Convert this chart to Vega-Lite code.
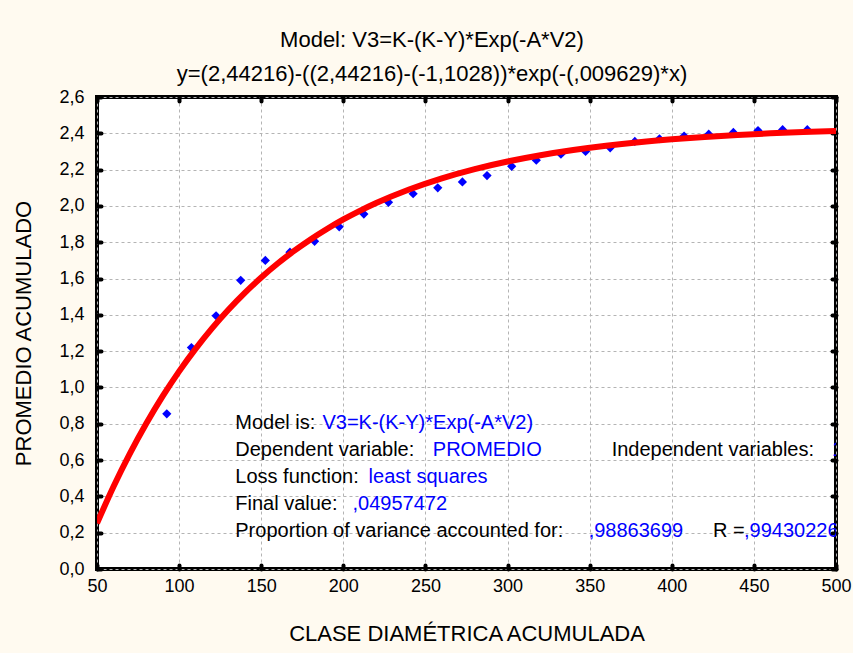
{
  "$schema": "https://vega.github.io/schema/vega-lite/v6.json",
  "width": 739,
  "height": 472,
  "autosize": {"type": "none"},
  "padding": {"left": 97, "top": 97, "right": 17, "bottom": 84},
  "background": "#FFFAF0",
  "config": {
    "font": "Liberation Sans",
    "view": {"fill": "white", "stroke": "black", "strokeWidth": 4}
  },
  "title": {
    "text": "Model: V3=K-(K-Y)*Exp(-A*V2)",
    "subtitle": "y=(2,44216)-((2,44216)-(-1,1028))*exp(-(,009629)*x)",
    "anchor": "middle",
    "frame": "bounds",
    "font": "Liberation Sans",
    "fontSize": 22,
    "fontWeight": "normal",
    "color": "black",
    "subtitleFont": "Liberation Sans",
    "subtitleFontSize": 22,
    "subtitleColor": "black",
    "subtitlePadding": 12,
    "offset": 2
  },
  "datasets": {
    "puntos": [
      {"clase": 92.5, "promedio": 0.855},
      {"clase": 107.5, "promedio": 1.22},
      {"clase": 122.5, "promedio": 1.395},
      {"clase": 137.5, "promedio": 1.59},
      {"clase": 152.5, "promedio": 1.70},
      {"clase": 167.5, "promedio": 1.745},
      {"clase": 182.5, "promedio": 1.805},
      {"clase": 197.5, "promedio": 1.885},
      {"clase": 212.5, "promedio": 1.955},
      {"clase": 227.5, "promedio": 2.02},
      {"clase": 242.5, "promedio": 2.067},
      {"clase": 257.5, "promedio": 2.10},
      {"clase": 272.5, "promedio": 2.132},
      {"clase": 287.5, "promedio": 2.167},
      {"clase": 302.5, "promedio": 2.218},
      {"clase": 317.5, "promedio": 2.252},
      {"clase": 332.5, "promedio": 2.285},
      {"clase": 347.5, "promedio": 2.30},
      {"clase": 362.5, "promedio": 2.32},
      {"clase": 377.5, "promedio": 2.355},
      {"clase": 392.5, "promedio": 2.37},
      {"clase": 407.5, "promedio": 2.385},
      {"clase": 422.5, "promedio": 2.395},
      {"clase": 437.5, "promedio": 2.405},
      {"clase": 452.5, "promedio": 2.415},
      {"clase": 467.5, "promedio": 2.42},
      {"clase": 482.5, "promedio": 2.42}
    ],
    "ajuste": [
      {"clase": 50, "promedio": 0.2518},
      {"clase": 60, "promedio": 0.4529},
      {"clase": 70, "promedio": 0.6355},
      {"clase": 80, "promedio": 0.8014},
      {"clase": 90, "promedio": 0.9520},
      {"clase": 100, "promedio": 1.0888},
      {"clase": 110, "promedio": 1.2129},
      {"clase": 120, "promedio": 1.3258},
      {"clase": 130, "promedio": 1.4283},
      {"clase": 140, "promedio": 1.5213},
      {"clase": 150, "promedio": 1.6058},
      {"clase": 160, "promedio": 1.6826},
      {"clase": 170, "promedio": 1.7523},
      {"clase": 180, "promedio": 1.8156},
      {"clase": 190, "promedio": 1.8731},
      {"clase": 200, "promedio": 1.9255},
      {"clase": 210, "promedio": 1.9729},
      {"clase": 220, "promedio": 2.0160},
      {"clase": 240, "promedio": 2.0906},
      {"clase": 260, "promedio": 2.1522},
      {"clase": 280, "promedio": 2.2030},
      {"clase": 300, "promedio": 2.2449},
      {"clase": 320, "promedio": 2.2794},
      {"clase": 340, "promedio": 2.3080},
      {"clase": 360, "promedio": 2.3315},
      {"clase": 380, "promedio": 2.3509},
      {"clase": 400, "promedio": 2.3668},
      {"clase": 420, "promedio": 2.3800},
      {"clase": 440, "promedio": 2.3909},
      {"clase": 460, "promedio": 2.3999},
      {"clase": 480, "promedio": 2.4073},
      {"clase": 500, "promedio": 2.4134}
    ],
    "notas": [
      {"tx": 134.2, "ty": 0.8026, "txt": "Model is:", "kind": "label"},
      {"tx": 187.3, "ty": 0.8026, "txt": "V3=K-(K-Y)*Exp(-A*V2)", "kind": "value"},
      {"tx": 134.2, "ty": 0.6555, "txt": "Dependent variable:", "kind": "label"},
      {"tx": 254.5, "ty": 0.6555, "txt": "PROMEDIO", "kind": "value"},
      {"tx": 363.4, "ty": 0.6555, "txt": "Independent variables:", "kind": "label"},
      {"tx": 497.6, "ty": 0.6555, "txt": "1", "kind": "value"},
      {"tx": 134.2, "ty": 0.5051, "txt": "Loss function:", "kind": "label"},
      {"tx": 215.4, "ty": 0.5051, "txt": "least squares", "kind": "value"},
      {"tx": 134.2, "ty": 0.3581, "txt": "Final value:", "kind": "label"},
      {"tx": 205.6, "ty": 0.3581, "txt": ",04957472", "kind": "value"},
      {"tx": 134.2, "ty": 0.2110, "txt": "Proportion of variance accounted for:", "kind": "label"},
      {"tx": 349.4, "ty": 0.2110, "txt": ",98863699", "kind": "value"},
      {"tx": 425.1, "ty": 0.2110, "txt": "R =", "kind": "label"},
      {"tx": 444.0, "ty": 0.2110, "txt": ",99430226", "kind": "value"}
    ]
  },
  "layer": [
    {
      "data": {"name": "puntos"},
      "mark": {"type": "point", "shape": "diamond", "filled": true, "size": 85, "color": "#0000FF", "opacity": 1},
      "encoding": {
        "x": {
          "field": "clase", "type": "quantitative",
          "scale": {"domain": [50, 500], "nice": false, "zero": false},
          "axis": {
            "orient": "bottom", "title": "CLASE DIAMÉTRICA ACUMULADA",
            "values": [50, 100, 150, 200, 250, 300, 350, 400, 450, 500],
            "grid": true, "gridColor": "#b4b4b4", "gridDash": [3, 3], "gridWidth": 1,
            "domain": false, "ticks": true, "tickSize": -4, "tickWidth": 4, "tickCap": "round", "tickColor": "black",
            "labelFontSize": 18, "labelColor": "black", "labelPadding": 12, "labelFlush": false, "labelOverlap": false,
            "titleFontSize": 22, "titleFontWeight": "normal", "titleColor": "black", "titlePadding": 28
          }
        },
        "y": {
          "field": "promedio", "type": "quantitative",
          "scale": {"domain": [0, 2.6], "nice": false, "zero": false},
          "axis": {
            "orient": "left", "title": "PROMEDIO ACUMULADO",
            "values": [0, 0.2, 0.4, 0.6, 0.8, 1.0, 1.2, 1.4, 1.6, 1.8, 2.0, 2.2, 2.4, 2.6],
            "labelExpr": "replace(format(datum.value, '.1f'), '.', ',')",
            "grid": true, "gridColor": "#b4b4b4", "gridDash": [3, 3], "gridWidth": 1,
            "domain": false, "ticks": true, "tickSize": -4, "tickWidth": 4, "tickCap": "round", "tickColor": "black",
            "labelFontSize": 18, "labelColor": "black", "labelPadding": 17, "labelFlush": false, "labelOverlap": false,
            "titleFontSize": 22, "titleFontWeight": "normal", "titleColor": "black", "titlePadding": 23
          }
        }
      }
    },
    {
      "data": {"name": "ajuste"},
      "mark": {"type": "line", "color": "#FF0000", "strokeWidth": 6, "interpolate": "monotone", "clip": true},
      "encoding": {
        "x": {
          "field": "clase", "type": "quantitative",
          "scale": {"domain": [50, 500], "nice": false, "zero": false},
          "axis": {
            "orient": "top", "title": null, "labels": false, "grid": false, "domain": false,
            "values": [50, 100, 150, 200, 250, 300, 350, 400, 450, 500],
            "ticks": true, "tickSize": -4, "tickWidth": 4, "tickCap": "round", "tickColor": "black"
          }
        },
        "y": {
          "field": "promedio", "type": "quantitative",
          "scale": {"domain": [0, 2.6], "nice": false, "zero": false},
          "axis": {
            "orient": "right", "title": null, "labels": false, "grid": false, "domain": false,
            "values": [0, 0.2, 0.4, 0.6, 0.8, 1.0, 1.2, 1.4, 1.6, 1.8, 2.0, 2.2, 2.4, 2.6],
            "ticks": true, "tickSize": -4, "tickWidth": 4, "tickCap": "round", "tickColor": "black"
          }
        }
      }
    },
    {
      "data": {"name": "notas"},
      "mark": {"type": "text", "align": "left", "baseline": "middle", "fontSize": 20, "font": "Liberation Sans", "clip": true},
      "encoding": {
        "x": {"field": "tx", "type": "quantitative", "scale": {"domain": [50, 500], "nice": false, "zero": false}, "axis": null},
        "y": {"field": "ty", "type": "quantitative", "scale": {"domain": [0, 2.6], "nice": false, "zero": false}, "axis": null},
        "text": {"field": "txt"},
        "color": {"field": "kind", "type": "nominal", "scale": {"domain": ["label", "value"], "range": ["#000000", "#0000FF"]}, "legend": null}
      }
    }
  ],
  "resolve": {"axis": {"x": "independent", "y": "independent"}}
}
